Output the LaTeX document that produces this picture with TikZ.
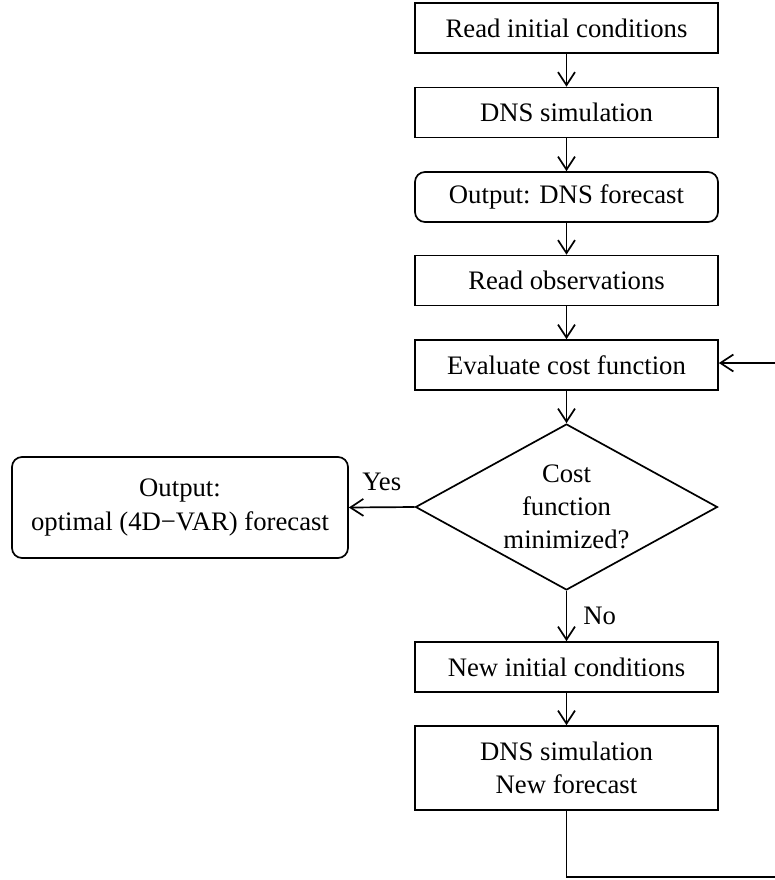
\documentclass[tikz,border=0pt]{standalone}
\usepackage{fontspec}
\setmainfont{Liberation Serif}
\usetikzlibrary{shapes.geometric,arrows.meta}
\tikzset{
  every node/.style={font=\fontsize{13.35}{16.6}\selectfont},
  stepbox/.style={draw, line width=0.85pt, rectangle, minimum width=151.5pt, minimum height=25pt, inner sep=0pt, align=center},
  roundbox/.style={stepbox, rounded corners=5pt},
  decision/.style={draw, line width=0.85pt, diamond, aspect=1.82, inner sep=0pt, minimum width=151pt, minimum height=83pt, align=center},
  flow/.style={line width=0.85pt, -{Straight Barb[length=6.5pt,width=8.5pt]}},
  lbl/.style={inner sep=2pt}
}
\begin{document}
\begin{tikzpicture}[x=0.5pt,y=-0.5pt]
\useasboundingbox (0,0) rectangle (775,880);
\node[stepbox] (b1) at (566.5,28) {Read initial conditions};
\node[stepbox] (b2) at (566.5,112.5) {DNS simulation};
\node[roundbox] (b3) at (566.5,197) {Output: DNS forecast};
\node[stepbox] (b4) at (566.5,280.5) {Read observations};
\node[stepbox] (b5) at (566.5,365) {Evaluate cost function};
\node[decision] (d) at (566.5,507) {Cost\\function\\minimized?};
\node[roundbox, minimum width=168pt, minimum height=50.5pt] (out) at (180,507.5) {Output:\\optimal (4D−VAR) forecast};
\node[stepbox] (b6) at (566.5,667) {New initial conditions};
\node[stepbox, minimum height=42pt] (b7) at (566.5,768) {DNS simulation\\New forecast};
\coordinate (c1) at (566.5,877);
\coordinate (c2) at (778,877);
\coordinate (c3) at (778,363);
\draw[flow] (b1) -- (b2);
\draw[flow] (b2) -- (b3);
\draw[flow] (b3) -- (b4);
\draw[flow] (b4) -- (b5);
\draw[flow] (b5) -- (d);
\draw[flow] (d.west) -- node[above, lbl, yshift=6pt] {Yes} (out.east);
\draw[flow] (d.south) -- node[right, lbl, xshift=6pt] {No} (b6.north);
\draw[flow] (b6) -- (b7);
\draw[line width=0.85pt] (b7.south) -- (c1) -- (c2) -- (c3);
\draw[flow] (c3) -- (b5.east |- c3);
\end{tikzpicture}
\end{document}
